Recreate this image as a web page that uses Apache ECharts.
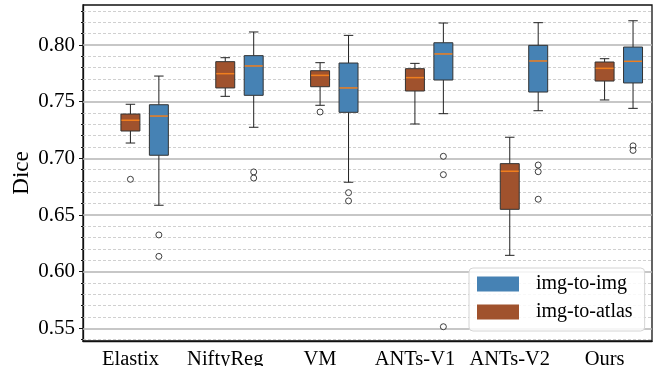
<!DOCTYPE html>
<html>
<head>
<meta charset="utf-8">
<script src="https://cdn.jsdelivr.net/npm/echarts@6/dist/echarts.min.js"></script>
<style>
html, body { margin: 0; padding: 0; background: #fff; }
#chart { width: 656px; height: 366px; }
</style>
</head>
<body>
<div id="chart"></div>
<script>
var methods = ['Elastix', 'NiftyReg', 'VM', 'ANTs-V1', 'ANTs-V2', 'Ours'];

// [lower whisker, q1, median, q3, upper whisker]
var atlasStats = [
    [0.7135, 0.7241, 0.7336, 0.7391, 0.7477],
    [0.7547, 0.7621, 0.7747, 0.7853, 0.7888],
    [0.7468, 0.7632, 0.7732, 0.7773, 0.7844],
    [0.7303, 0.7594, 0.7712, 0.7791, 0.7838],
    [0.6144, 0.6550, 0.6886, 0.6953, 0.7186],
    [0.7515, 0.7682, 0.7794, 0.7850, 0.7879]
];
var imgStats = [
    [0.6586, 0.7027, 0.7373, 0.7473, 0.7726],
    [0.7274, 0.7556, 0.7815, 0.7906, 0.8115],
    [0.6789, 0.7406, 0.7621, 0.7841, 0.8085],
    [0.7394, 0.7691, 0.7921, 0.8020, 0.8194],
    [0.7420, 0.7585, 0.7859, 0.7997, 0.8197],
    [0.7441, 0.7665, 0.7856, 0.7982, 0.8214]
];

// outliers: [method index, dice]
var atlasOutliers = [[0, 0.6815], [2, 0.7409]];
var imgOutliers = [
    [0, 0.6324], [0, 0.6135],
    [1, 0.6880], [1, 0.6826],
    [2, 0.6697], [2, 0.6624],
    [3, 0.7018], [3, 0.6856], [3, 0.5514],
    [4, 0.6941], [4, 0.6882], [4, 0.6639],
    [5, 0.7110], [5, 0.7070]
];

var majorTicks = [0.55, 0.60, 0.65, 0.70, 0.75, 0.80];
var minorTicks = [0.54, 0.56, 0.57, 0.58, 0.59, 0.61, 0.62, 0.63, 0.64, 0.66, 0.67, 0.68, 0.69,
    0.71, 0.72, 0.73, 0.74, 0.76, 0.77, 0.78, 0.79, 0.81, 0.82, 0.83];

var imgShift = 0.3; // blue boxes sit to the right of the tick
var serif = 'Liberation Serif';

function boxData(stats, shift) {
    return stats.map(function (s, i) { return [i + shift].concat(s); });
}
function outlierData(list, shift) {
    return list.map(function (o) { return [o[0] + shift, o[1]]; });
}

function renderBox(params, api) {
    var x = api.value(0);
    var lo = api.coord([x, api.value(1)]);
    var q1 = api.coord([x, api.value(2)]);
    var med = api.coord([x, api.value(3)]);
    var q3 = api.coord([x, api.value(4)]);
    var hi = api.coord([x, api.value(5)]);
    var w = api.size([0.2, 0])[0];
    var cx = lo[0];
    var wk = { stroke: '#222', lineWidth: 1 };
    return {
        type: 'group',
        children: [
            { type: 'line', shape: { x1: cx, y1: q3[1], x2: cx, y2: hi[1] }, style: wk },
            { type: 'line', shape: { x1: cx, y1: q1[1], x2: cx, y2: lo[1] }, style: wk },
            { type: 'line', shape: { x1: cx - w / 4, y1: hi[1], x2: cx + w / 4, y2: hi[1] }, style: wk },
            { type: 'line', shape: { x1: cx - w / 4, y1: lo[1], x2: cx + w / 4, y2: lo[1] }, style: wk },
            { type: 'rect', shape: { x: cx - w / 2, y: q3[1], width: w, height: q1[1] - q3[1] },
              style: { fill: api.visual('color'), stroke: '#333', lineWidth: 1 } },
            { type: 'line', shape: { x1: cx - w / 2 + 0.5, y1: med[1], x2: cx + w / 2 - 0.5, y2: med[1] },
              style: { stroke: '#f07f1e', lineWidth: 1.5 } }
        ]
    };
}

var gridLines = majorTicks.map(function (v) {
    return { yAxis: v, lineStyle: { color: '#b4b4b4', width: 1.5, type: 'solid' } };
}).concat(minorTicks.map(function (v) {
    return { yAxis: v, lineStyle: { color: '#c4c4c4', width: 0.8, type: [3, 2] } };
}));

var chart = echarts.init(document.getElementById('chart'));

var option = {
    animation: false,
    grid: {
        left: 83, right: 4, top: 5, bottom: 25,
        outerBoundsMode: 'none', containLabel: false,
        show: true, borderColor: '#111', borderWidth: 1.3
    },
    legend: {
        orient: 'vertical',
        left: 469,
        top: 268,
        icon: 'rect',
        itemWidth: 42,
        itemHeight: 15,
        itemGap: 8,
        padding: [6, 12, 9, 8],
        backgroundColor: 'rgba(255,255,255,0.85)',
        borderColor: '#d4d4d4',
        borderWidth: 1,
        borderRadius: 4,
        textStyle: { fontFamily: serif, fontSize: 20, color: '#000', padding: [0, 0, 0, 12] },
        data: ['img-to-img', 'img-to-atlas']
    },
    xAxis: [{
        type: 'category',
        data: methods,
        boundaryGap: true,
        axisLine: { onZero: false, lineStyle: { color: '#111', width: 1.3 } },
        axisTick: { alignWithLabel: true, length: 4, lineStyle: { color: '#111' } },
        axisLabel: { interval: 0, fontFamily: serif, fontSize: 20.5, color: '#000', margin: 8 },
        splitLine: { show: false }
    }, {
        type: 'value',
        min: -0.5,
        max: 5.5,
        show: false
    }],
    yAxis: [{
        type: 'value',
        min: 0.5388,
        max: 0.8353,
        name: 'Dice',
        nameLocation: 'middle',
        nameGap: 50,
        nameMoveOverlap: false,
        nameTextStyle: { fontFamily: serif, fontSize: 23, color: '#000' },
        axisLine: { show: true, onZero: false, lineStyle: { color: '#111', width: 1.3 } },
        axisTick: { show: true, length: 4, customValues: majorTicks, lineStyle: { color: '#111' } },
        axisLabel: {
            fontFamily: serif, fontSize: 21, color: '#000', margin: 8,
            customValues: majorTicks,
            formatter: function (v) { return v.toFixed(2); }
        },
        splitLine: { show: false }
    }, {
        type: 'value',
        min: 0.5388,
        max: 0.8353,
        position: 'left',
        offset: 0,
        axisLine: { show: false, onZero: false },
        axisTick: { show: true, length: 2, customValues: minorTicks, lineStyle: { color: '#111' } },
        axisLabel: { show: false },
        splitLine: { show: false }
    }],
    series: [{
        name: 'img-to-img',
        type: 'custom',
        xAxisIndex: 1,
        yAxisIndex: 0,
        z: 3,
        itemStyle: { color: '#4682b4' },
        renderItem: renderBox,
        encode: { x: 0, y: [1, 2, 3, 4, 5] },
        data: boxData(imgStats, imgShift)
    }, {
        name: 'img-to-atlas',
        type: 'custom',
        xAxisIndex: 1,
        yAxisIndex: 0,
        z: 3,
        itemStyle: { color: '#a0522d' },
        renderItem: renderBox,
        encode: { x: 0, y: [1, 2, 3, 4, 5] },
        data: boxData(atlasStats, 0)
    }, {
        type: 'scatter',
        xAxisIndex: 1,
        yAxisIndex: 0,
        z: 4,
        symbol: 'circle',
        symbolSize: 6,
        itemStyle: { color: '#fff', borderColor: '#111', borderWidth: 1 },
        data: outlierData(imgOutliers, imgShift).concat(outlierData(atlasOutliers, 0)),
        markLine: {
            silent: true,
            z: 1,
            symbol: 'none',
            label: { show: false },
            data: gridLines
        }
    }]
};

chart.setOption(option);
</script>
</body>
</html>
